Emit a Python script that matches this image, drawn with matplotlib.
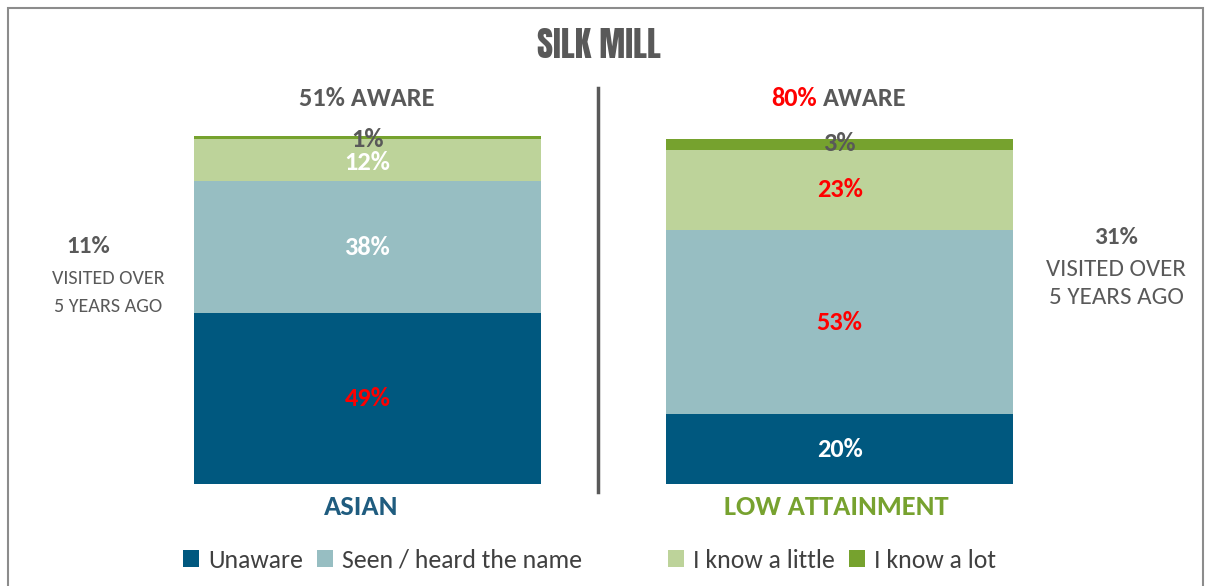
import matplotlib.pyplot as plt
from matplotlib.patches import Rectangle, Patch
from matplotlib.lines import Line2D

# データ
groups = ["ASIAN", "LOW ATTAINMENT"]
series = ["Unaware", "Seen / heard the name", "I know a little", "I know a lot"]
unaware = [49, 20]
seen = [38, 53]
little = [12, 23]
lot = [1, 3]
aware = [51, 80]
visited = [11, 31]

colors = ["#00587f", "#97bec2", "#bdd39a", "#76a22e"]
group_colors = ["#1f5c7f", "#77a22f"]
# ラベルの色 (行=系列, 列=グループ)
label_colors = [["red", "white"],
                ["white", "red"],
                ["white", "red"],
                ["#595959", "#595959"]]
# ラベル位置の微調整 (データ単位)
label_shift = [[0, 0], [0, 0], [-0.6, 0], [-0.4, 0.3]]
grey = "#595959"

plt.rcParams['font.family'] = ['Carlito', 'DejaVu Sans']

fig = plt.figure(figsize=(12.07, 5.86), dpi=100)
W, H = 1207, 586

# 外枠
fig.patches.append(Rectangle((8 / W, -0.1), (1203 - 8) / W, (H - 8) / H + 0.1,
                             transform=fig.transFigure, fill=False,
                             edgecolor="#8c8c8c", linewidth=1.5))

width = 0.734
ax = fig.add_axes([194 / W, (H - 484) / H, (1013 - 194) / W, (484 - 136) / H])
ax.set_xlim(-width / 2, 1 + width / 2)
ax.set_ylim(0, 100)
ax.axis("off")

x = [0, 1]
values = [unaware, seen, little, lot]
bottom = [0, 0]
for i, vals in enumerate(values):
    ax.bar(x, vals, width, bottom=bottom, color=colors[i], label=series[i])
    for j in range(2):
        yc = bottom[j] + vals[j] / 2 + label_shift[i][j]
        ax.text(x[j], yc, f"{vals[j]}%", ha="center", va="center",
                fontsize=19, fontweight="bold", color=label_colors[i][j])
    bottom = [bottom[k] + vals[k] for k in range(2)]

# タイトル
fig.text(599 / W, 1 - 45 / H, "SILK MILL", ha="center", va="center",
         fontsize=25, color=grey, family=['Anton', 'DejaVu Sans'])

# AWARE
fig.text(367 / W, 1 - 98 / H, f"{aware[0]}% AWARE", ha="center", va="center",
         fontsize=19, fontweight="bold", color=grey)
fig.text(817 / W, 1 - 98 / H, f"{aware[1]}%", ha="right", va="center",
         fontsize=19, fontweight="bold", color="red")
fig.text(823 / W, 1 - 98 / H, "AWARE", ha="left", va="center",
         fontsize=19, fontweight="bold", color=grey)

# グループ名
for j, (px, g) in enumerate(zip([361, 836], groups)):
    fig.text(px / W, 1 - 507 / H, g, ha="center", va="center",
             fontsize=20.5, fontweight="bold", color=group_colors[j])

# 区切り線
fig.lines.append(Line2D([598 / W, 598 / W], [1 - 88 / H, 1 - 492 / H],
                        transform=fig.transFigure, color=grey, linewidth=2.5))

# 訪問率
side = [(88, 108, 247, 14.5, visited[0]), (1116, 1116, 238, 18, visited[1])]
for px1, px2, py, fs, v in side:
    fig.text(px1 / W, 1 - py / H, f"{v}%", ha="center", va="center",
             fontsize=18, fontweight="bold", color=grey)
    fig.text(px2 / W, 1 - (py + 31) / H, "VISITED OVER", ha="center", va="center",
             fontsize=fs, color=grey)
    fig.text(px2 / W, 1 - (py + 60) / H, "5 YEARS AGO", ha="center", va="center",
             fontsize=fs, color=grey)

# 凡例
handles = [Patch(facecolor=c) for c in colors]
leg_kw = dict(frameon=False, fontsize=18.5, handlelength=0.62, handleheight=0.62,
              handletextpad=0.35, columnspacing=0.55, ncol=2, labelcolor="#404040",
              loc="center left", borderaxespad=0, borderpad=0)
fig.legend(handles[:2], series[:2], bbox_to_anchor=(183 / W, 1 - 560 / H), **leg_kw)
fig.legend(handles[2:], series[2:], bbox_to_anchor=(668 / W, 1 - 560 / H), **leg_kw)

fig.savefig("out.png", dpi=100)
